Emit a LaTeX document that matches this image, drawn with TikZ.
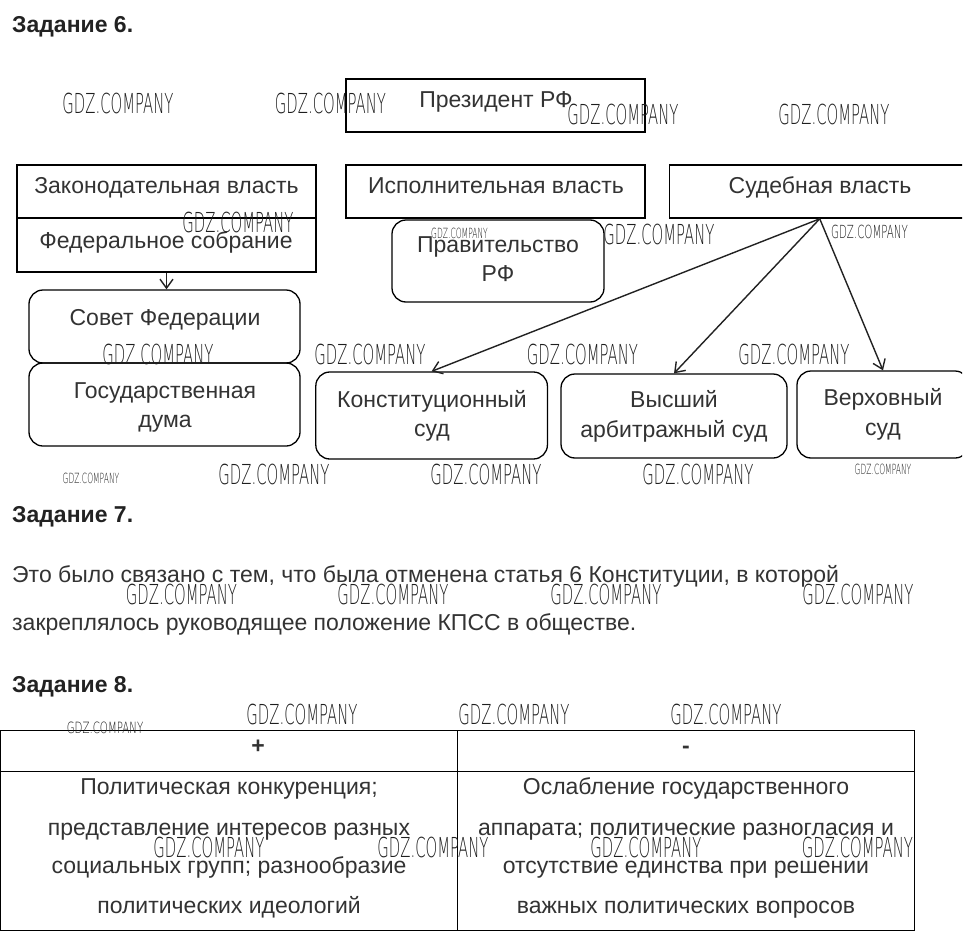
\documentclass[tikz,border=0pt]{standalone}
\usepackage{fontspec}
\setmainfont{Liberation Sans}
\newfontfamily\wmfont{DejaVu Sans ExtraLight}
\usetikzlibrary{arrows.meta}
\definecolor{tx}{HTML}{333333}
\definecolor{hd}{HTML}{222222}
\definecolor{wmc}{HTML}{1E1E1E}
\begin{document}
\begin{tikzpicture}[x=1pt,y=-1pt,
  txt/.style={anchor=base,inner sep=0,text=tx,font=\fontsize{23pt}{27pt}\selectfont},
  head/.style={anchor=base west,inner sep=0,text=hd,font=\fontsize{23pt}{27pt}\selectfont\bfseries},
  box/.style={draw=black,line width=1.6pt,inner sep=0},
  rbox/.style={box,line width=1.3pt,rounded corners=14pt},
  arr/.style={line width=1.4pt,draw=hd,-{Straight Barb[length=9pt,width=13pt,line width=1.4pt]}},
  wmL/.style={inner sep=0,text=wmc,font=\wmfont\fontsize{27.5pt}{27.5pt}\selectfont,xscale=0.54},
  wmM/.style={inner sep=0,text=wmc,font=\wmfont\fontsize{18pt}{18pt}\selectfont,xscale=0.57},
  wmS/.style={inner sep=0,text=wmc,font=\wmfont\fontsize{14pt}{14pt}\selectfont,xscale=0.54},
  wmT/.style={inner sep=0,text=wmc,font=\wmfont\fontsize{15.5pt}{15.5pt}\selectfont,xscale=0.66},
  tline/.style={draw=black,line width=1pt}]
\useasboundingbox (0,0) rectangle (969,942);
\fill[white] (0,0) rectangle (969,942);
\clip (0,0) rectangle (969,942);

% headings
\node[head] (h6) at (12,33) {Задание 6.};
\node[head] (h7) at (12,522) {Задание 7.};
\node[head] (h8) at (12,692) {Задание 8.};

% boxes
\node[box,minimum width=299pt,minimum height=53pt] (pres) at (495.5,105.5) {};
\node[box,minimum width=299pt,minimum height=53pt] (zak) at (166.5,191.5) {};
\node[box,minimum width=299pt,minimum height=54pt] (fed) at (166.5,245) {};
\node[box,minimum width=299pt,minimum height=53pt] (isp) at (495.5,191.5) {};
\begin{scope}
\clip (0,0) rectangle (962,942);
\node[box,minimum width=300.5pt,minimum height=53pt] (sud) at (819.75,191.5) {};
\node[rbox,minimum width=172pt,minimum height=87pt] (verkh) at (883,414.5) {};
\end{scope}
\node[rbox,minimum width=212pt,minimum height=82pt] (prav) at (498,261) {};
\node[rbox,minimum width=271pt,minimum height=73pt] (sovet) at (164.5,326.5) {};
\node[rbox,minimum width=271pt,minimum height=83pt] (duma) at (164.5,404.5) {};
\node[rbox,minimum width=231.6pt,minimum height=87pt] (konst) at (431.6,415.5) {};
\node[rbox,minimum width=226pt,minimum height=84pt] (vysh) at (674,416) {};

% box texts
\node[txt] (tpres) at (496,107) {Президент РФ};
\node[txt] (tzak) at (166.5,193) {Законодательная власть};
\node[txt] (tisp) at (496,193) {Исполнительная власть};
\node[txt] (tsud) at (820,193) {Судебная власть};
\node[txt] (tfed) at (166,248) {Федеральное собрание};
\node[txt] (tprav1) at (498,252) {Правительство};
\node[txt] (tprav2) at (498,281) {РФ};
\node[txt] (tsov) at (165,325) {Совет Федерации};
\node[txt] (tduma1) at (165,398) {Государственная};
\node[txt] (tduma2) at (165,427) {дума};
\node[txt] (tkon1) at (432,407) {Конституционный};
\node[txt] (tkon2) at (432,436) {суд};
\node[txt] (tvys1) at (674,407) {Высший};
\node[txt] (tvys2) at (674,437) {арбитражный суд};
\node[txt] (tver1) at (883,405) {Верховный};
\node[txt] (tver2) at (883,435) {суд};

% connectors
\draw[arr] (fed.south) -- (fed.south |- sovet.north);
\draw[arr] (sud.south) -- (konst.north);
\draw[arr] (sud.south) -- (vysh.north);
\draw[arr] (sud.south) -- (verkh.north);

% task 7 text
\node[txt,anchor=base west] (p1) at (12,582) {Это было связано с тем, что была отменена статья 6 Конституции, в которой};
\node[txt,anchor=base west] (p2) at (12,630) {закреплялось руководящее положение КПСС в обществе.};

% table
\coordinate (tl) at (0.5,730.5);
\coordinate (br) at (914,930);
\draw[tline] (tl) rectangle (br);
\draw[tline] (0.5,771) -- (914,771);
\draw[tline,line width=0.8pt] (457,730.5) -- (457,930);
\node[txt,font=\fontsize{23pt}{27pt}\selectfont\bfseries] (plus) at (258,753) {+};
\node[txt,font=\fontsize{23pt}{27pt}\selectfont\bfseries] (minus) at (686,753) {-};
\node[txt] (l1) at (229,794) {Политическая конкуренция;};
\node[txt] (l2) at (229,835) {представление интересов разных};
\node[txt] (l3) at (229,873) {социальных групп; разнообразие};
\node[txt] (l4) at (229,913) {политических идеологий};
\node[txt] (r1) at (686,794) {Ослабление государственного};
\node[txt] (r2) at (686,835) {аппарата; политические разногласия и};
\node[txt] (r3) at (686,873) {отсутствие единства при решении};
\node[txt] (r4) at (686,913) {важных политических вопросов};

% watermarks
\node[wmL] (w1) at (118,103) {GDZ.COMPANY};
\node[wmL] (w2) at (330.5,103) {GDZ.COMPANY};
\node[wmL] (w3) at (623,114) {GDZ.COMPANY};
\node[wmL] (w4) at (834,114) {GDZ.COMPANY};
\node[wmL] (w5) at (238,222) {GDZ.COMPANY};
\node[wmS] (w6) at (459.5,233) {GDZ.COMPANY};
\node[wmL] (w7) at (659,234.5) {GDZ.COMPANY};
\node[wmM] (w8) at (869.5,231.5) {GDZ.COMPANY};
\node[wmL] (w9) at (158,354.5) {GDZ.COMPANY};
\node[wmL] (w10) at (370,354.5) {GDZ.COMPANY};
\node[wmL] (w11) at (582.5,354.5) {GDZ.COMPANY};
\node[wmL] (w12) at (794,354.5) {GDZ.COMPANY};
\node[wmS] (w13) at (91,478) {GDZ.COMPANY};
\node[wmL] (w14) at (274,474) {GDZ.COMPANY};
\node[wmL] (w15) at (486,474) {GDZ.COMPANY};
\node[wmL] (w16) at (698,474) {GDZ.COMPANY};
\node[wmS] (w17) at (883,469.5) {GDZ.COMPANY};
\node[wmL] (w18) at (181.5,594) {GDZ.COMPANY};
\node[wmL] (w19) at (393,594) {GDZ.COMPANY};
\node[wmL] (w20) at (606,594) {GDZ.COMPANY};
\node[wmL] (w21) at (858,594) {GDZ.COMPANY};
\node[wmT] (w22) at (105,727.5) {GDZ.COMPANY};
\node[wmL] (w23) at (302,714.5) {GDZ.COMPANY};
\node[wmL] (w24) at (514,714.5) {GDZ.COMPANY};
\node[wmL] (w25) at (726,714.5) {GDZ.COMPANY};
\node[wmL] (w26) at (209,847.5) {GDZ.COMPANY};
\node[wmL] (w27) at (433,847.5) {GDZ.COMPANY};
\node[wmL] (w28) at (646,847.5) {GDZ.COMPANY};
\node[wmL] (w29) at (857.5,847.5) {GDZ.COMPANY};
\end{tikzpicture}
\end{document}
